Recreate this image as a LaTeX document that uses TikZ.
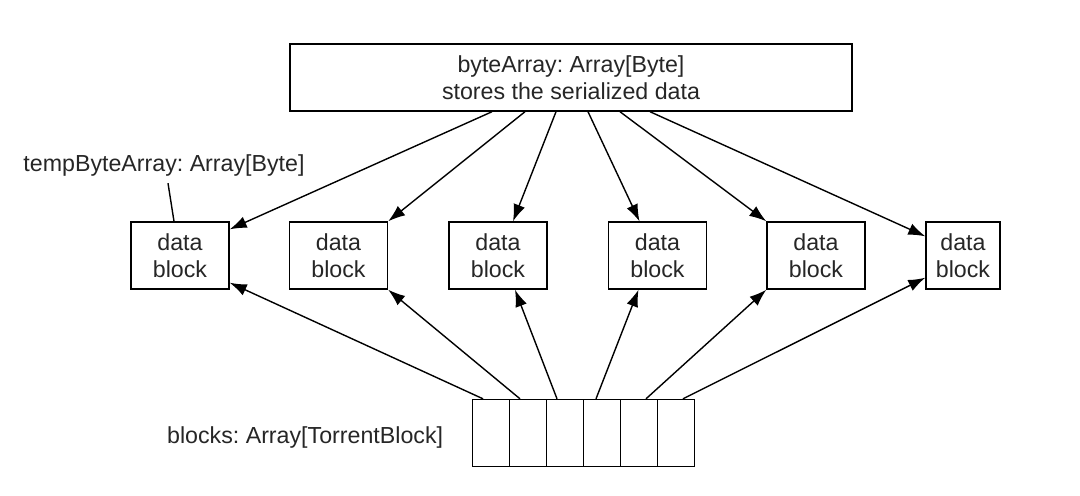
\documentclass[tikz,border=0pt]{standalone}
\usepackage{fontspec}
\setmainfont{Liberation Sans}
\usepackage{tikz}
\usetikzlibrary{matrix,calc,positioning,arrows.meta}
\frenchspacing

\begin{document}
\begin{tikzpicture}[x=0.5pt,y=-0.5pt,line width=0.7pt,
        every node/.style={font=\fontsize{11.6}{13.5}\selectfont, text=black!85},
        blockbox/.style={draw, align=center, minimum width=49pt, minimum height=33.5pt, inner sep=0pt},
        ptr/.style={-{Latex[length=8.5pt,width=6pt]}}]
        \useasboundingbox (0,0) rectangle (1080,495);

        \node[draw, align=center, minimum width=281pt, minimum height=33.5pt] (byteArr) at (571,77.5)
            {byteArray: Array[Byte]\\stores the serialized data};

        \node[blockbox] (blk1) at (180,255.5) {data\\block};
        \node[blockbox] (blk2) at (338.5,255.5) {data\\block};
        \node[blockbox] (blk3) at (498,255.5) {data\\block};
        \node[blockbox] (blk4) at (657.5,255.5) {data\\block};
        \node[blockbox] (blk5) at (816,255.5) {data\\block};
        \node[blockbox, minimum width=37pt] (blk6) at (963,255.5) {data\\block};

        \matrix (arr) [matrix of nodes, nodes in empty cells, column sep=-0.7pt,
            nodes={draw, minimum width=18.5pt, minimum height=33.5pt}] at (583.5,433)
        {
            & & & & & \\
        };

        \node (temp) at (164,165) {tempByteArray: Array[Byte]};
        \draw ($(temp.south)+(4,0)$) -- ($(blk1.north)+(-6,0)$);
        \node[left=7pt of arr, yshift=-2pt] (blocksLbl) {blocks: Array[TorrentBlock]};

        \draw[ptr] ($(byteArr.south)+(-79,0)$) -- ($(blk1.north east)+(0,8)$);
        \draw[ptr] ($(byteArr.south)+(-46,0)$) -- (blk2.north east);
        \draw[ptr] ($(byteArr.south)+(-15,0)$) -- ($(blk3.north)+(15,0)$);
        \draw[ptr] ($(byteArr.south)+(17,0)$) -- ($(blk4.north)+(-18,0)$);
        \draw[ptr] ($(byteArr.south)+(49,0)$) -- (blk5.north west);
        \draw[ptr] ($(byteArr.south)+(79,0)$) -- ($(blk6.north west)+(0,15)$);

        \draw[ptr] ($(arr-1-1.north)+(-8,0)$) -- ($(blk1.south east)+(0,-7)$);
        \draw[ptr] ($(arr-1-2.north)+(-8,0)$) -- (blk2.south east);
        \draw[ptr] ($(arr-1-3.north)+(-8,0)$) -- ($(blk3.south)+(17,0)$);
        \draw[ptr] ($(arr-1-4.north)+(-6,0)$) -- ($(blk4.south)+(-19,0)$);
        \draw[ptr] ($(arr-1-5.north)+(7,0)$) -- (blk5.south west);
        \draw[ptr] ($(arr-1-6.north)+(7,0)$) -- ($(blk6.south west)+(0,-12)$);
    \end{tikzpicture}
\end{document}
